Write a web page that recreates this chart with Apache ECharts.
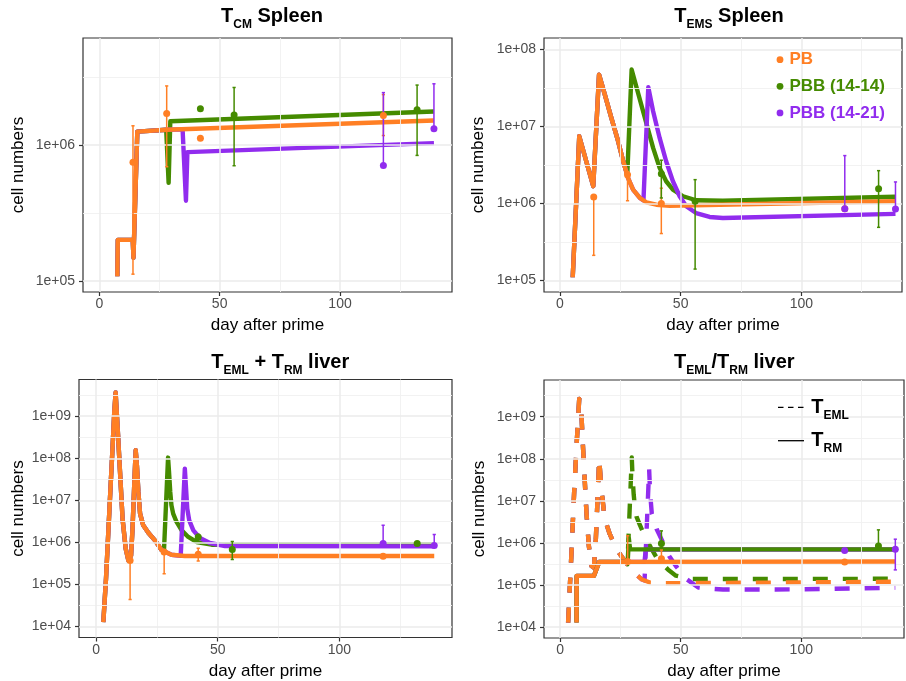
<!DOCTYPE html>
<html><head><meta charset="utf-8">
<script src="https://cdn.jsdelivr.net/npm/echarts@6/dist/echarts.min.js"></script>
<style>html,body{margin:0;padding:0;background:#fff;}#c{width:906px;height:681px;}</style>
</head><body><div id="c"></div>
<script>
// ---------------- DATA ----------------
const groups = ['PB', 'PBB (14-14)', 'PBB (14-21)'];
const dayTicks = [0, 50, 100];
const dayMinor = [25, 75, 125];
const cmTicks = [1e5, 1e6];
const cmMinor = [3.162e5, 3.162e6];
const emsTicks = [1e5, 1e6, 1e7, 1e8];
const emsMinor = [3.162e5, 3.162e6, 3.162e7];
const livTicks = [1e4, 1e5, 1e6, 1e7, 1e8, 1e9];
const livMinor = [3.162e4, 3.162e5, 3.162e6, 3.162e7, 3.162e8, 3.162e9];

// Panel 1: TCM spleen  (model lines: [day, cells])
const cmLinePB  = [[7.5,1.08e5],[7.7,2.0e5],[13.9,2.0e5],[14.2,1.48e5],[14.8,1.48e5],[15.8,1.25e6],[28,1.29e6],[139,1.51e6]];
const cmLineB14 = [[7.5,1.08e5],[7.7,2.0e5],[13.9,2.0e5],[14.2,1.48e5],[14.8,1.48e5],[15.8,1.25e6],[27.8,1.29e6],[28.8,5.25e5],[29.5,1.49e6],[139,1.76e6]];
const cmLineB21 = [[7.5,1.08e5],[7.7,2.0e5],[13.9,2.0e5],[14.2,1.48e5],[14.8,1.48e5],[15.8,1.25e6],[28,1.29e6],[34.6,1.30e6],[36.0,3.88e5],[36.6,8.83e5],[139,1.03e6]];
// observations: [day, mean, low, high]
const cmPtsPB  = [[14,7.43e5,1.12e5,1.38e6],[28,1.70e6,6.9e5,2.71e6],[42,1.12e6,1.12e6,1.12e6],[118,1.64e6,1.17e6,2.34e6]];
const cmPtsB14 = [[42,1.84e6,1.84e6,1.84e6],[56,1.66e6,7.02e5,2.64e6],[132,1.81e6,8.36e5,2.75e6]];
const cmPtsB21 = [[118,7.06e5,7.0e5,2.42e6],[139,1.31e6,1.30e6,2.81e6]];

// Panel 2: TEMS spleen
const emsLinePB  = [[5.3,1.10e5],[8.0,7.48e6],[13.8,1.675e6],[16.2,4.73e7],[18.6,2.60e7],[21.3,1.294e7],[24.1,6.44e6],[26.2,3.54e6],[28.2,2.15e6],[30.3,1.514e6],[33.1,1.18e6],[35.8,1.037e6],[39.9,9.64e5],[45.5,9.35e5],[139,1.069e6]];
const emsLineB14 = [[5.3,1.10e5],[8.0,7.48e6],[13.8,1.675e6],[16.2,4.73e7],[18.6,2.60e7],[21.3,1.294e7],[24.1,6.44e6],[26.2,3.54e6],[27.9,2.37e6],[29.7,5.50e7],[38.6,5.27e6],[41.3,2.90e6],[44.0,1.945e6],[46.8,1.514e6],[51.0,1.242e6],[56.4,1.102e6],[67.5,1.086e6],[139,1.225e6]];
const emsLineB21 = [[5.3,1.10e5],[8.0,7.48e6],[13.8,1.675e6],[16.2,4.73e7],[18.6,2.60e7],[21.3,1.294e7],[24.1,6.44e6],[26.2,3.54e6],[28.2,2.15e6],[30.3,1.514e6],[33.1,1.18e6],[34.6,1.10e6],[36.6,3.24e7],[38.6,1.58e7],[41.3,7.11e6],[44.0,3.54e6],[46.8,1.945e6],[49.6,1.242e6],[52.3,9.20e5],[56.4,7.52e5],[62.0,6.68e5],[67.5,6.47e5],[139,7.33e5]];
const emsPtsPB  = [[14,1.216e6,2.12e5,1.30e6],[28,2.37e6,1.086e6,2.6e6],[42,1.0e6,4.07e5,1.58e6],[118,8.55e5,8.1e5,9.0e5]];
const emsPtsB14 = [[42,2.44e6,1.18e6,3.65e6],[56,1.07e6,1.406e5,2.04e6],[132,1.56e6,4.9e5,2.67e6]];
const emsPtsB21 = [[118,8.55e5,8.3e5,4.19e6],[139,8.51e5,8.3e5,1.905e6]];

// Panel 3: TEML + TRM liver
const livLinePB  = [[3.0,1.27e4],[4.1,1.37e5],[5.46,5.30e6],[6.83,2.04e8],[7.5,1.27e9],[8.05,3.66e9],[8.9,5.09e8],[9.86,4.74e7],[10.9,3.66e6],[12.2,7.08e5],[13.3,3.72e5],[13.9,3.6e5],[14.4,4.9e5],[15.0,2.12e6],[15.7,2.28e7],[16.3,1.55e8],[16.8,6.81e7],[17.4,1.585e7],[18.1,4.82e6],[19.4,2.54e6],[21.5,1.70e6],[24.2,1.117e6],[26.9,6.61e5],[31.0,5.09e5],[36.5,4.75e5],[139,4.75e5]];
const livLineB14 = [[3.0,1.27e4],[4.1,1.37e5],[5.46,5.30e6],[6.83,2.04e8],[7.5,1.27e9],[8.05,3.66e9],[8.9,5.09e8],[9.86,4.74e7],[10.9,3.66e6],[12.2,7.08e5],[13.3,3.72e5],[13.9,3.6e5],[14.4,4.9e5],[15.0,2.12e6],[15.7,2.28e7],[16.3,1.55e8],[16.8,6.81e7],[17.4,1.585e7],[18.1,4.82e6],[19.4,2.54e6],[21.5,1.70e6],[24.2,1.117e6],[26.9,6.61e5],[27.9,5.90e5],[29.6,1.04e8],[30.0,4.74e7],[30.5,1.585e7],[31.0,7.60e6],[31.7,4.82e6],[33.1,3.06e6],[35.2,1.93e6],[37.9,1.346e6],[41.3,1.023e6],[47.5,8.81e5],[53.0,8.8e5],[139,8.95e5]];
const livLineB21 = [[3.0,1.27e4],[4.1,1.37e5],[5.46,5.30e6],[6.83,2.04e8],[7.5,1.27e9],[8.05,3.66e9],[8.9,5.09e8],[9.86,4.74e7],[10.9,3.66e6],[12.2,7.08e5],[13.3,3.72e5],[13.9,3.6e5],[14.4,4.9e5],[15.0,2.12e6],[15.7,2.28e7],[16.3,1.55e8],[16.8,6.81e7],[17.4,1.585e7],[18.1,4.82e6],[19.4,2.54e6],[21.5,1.70e6],[24.2,1.117e6],[26.9,6.61e5],[31.0,5.09e5],[34.8,4.77e5],[36.5,5.69e7],[37.0,1.90e7],[37.5,6.34e6],[38.3,3.34e6],[40.0,1.93e6],[42.7,1.274e6],[46.8,9.68e5],[53.0,8.20e5],[139,8.04e5]];
const livPtsPB  = [[14,3.72e5,4.40e4,3.9e5],[28,5.90e5,1.80e5,6.2e5],[42,5.20e5,3.6e5,7.3e5],[118,4.65e5,4.4e5,4.95e5]];
const livPtsB14 = [[42,1.35e6,1.2e6,1.55e6],[56,6.81e5,3.9e5,1.05e6],[132,9.46e5,9.2e5,9.7e5]];
const livPtsB21 = [[118,9.46e5,9.3e5,2.54e6],[139,8.49e5,8.3e5,1.55e6]];

// Panel 4: TEML (dashed) / TRM (solid) liver
const rmLinePB  = [[6.8,1.27e4],[6.85,1.64e5],[14.0,1.64e5],[16.2,3.53e5],[139,3.61e5]];
const rmLineB14 = [[6.8,1.27e4],[6.85,1.64e5],[14.0,1.64e5],[16.2,3.53e5],[28.0,3.55e5],[28.5,1.27e6],[29.0,7.0e5],[139,7.0e5]];
const rmLineB21 = [[6.8,1.27e4],[6.85,1.64e5],[14.0,1.64e5],[16.2,3.53e5],[35.0,3.56e5],[35.5,6.95e5],[139,6.95e5]];
const emlLinePB  = [[3.3,1.27e4],[4.7,5.90e5],[5.8,1.585e7],[6.8,2.04e8],[7.9,2.64e9],[8.6,2.20e9],[9.3,2.94e8],[10.1,3.94e7],[10.9,5.30e6],[11.9,8.49e5],[13.0,2.83e5],[14.0,2.59e5],[14.8,1.225e6],[15.5,1.096e7],[16.2,9.84e7],[17.1,1.90e7],[18.5,3.66e6],[20.6,1.61e6],[23.4,7.08e5],[26.8,3.72e5],[30.3,2.04e5],[33.7,1.37e5],[37.2,1.14e5],[42.7,1.10e5],[60,1.11e5],[139,1.19e5]];
const emlLineB14 = [[3.3,1.27e4],[4.7,5.90e5],[5.8,1.585e7],[6.8,2.04e8],[7.9,2.64e9],[8.6,2.20e9],[9.3,2.94e8],[10.1,3.94e7],[10.9,5.30e6],[11.9,8.49e5],[13.0,2.83e5],[14.0,2.59e5],[14.8,1.225e6],[15.5,1.096e7],[16.2,9.84e7],[17.1,1.90e7],[18.5,3.66e6],[20.6,1.61e6],[23.4,7.08e5],[26.8,3.72e5],[27.9,3.1e5],[29.7,1.07e8],[30.0,3.98e7],[30.5,1.41e7],[31.0,7.08e6],[31.7,4.17e6],[33.1,2.63e6],[35.2,1.41e6],[37.5,7.94e5],[40.0,4.47e5],[44.8,2.29e5],[48.0,1.66e5],[53.8,1.38e5],[139,1.40e5]];
const emlLineB21 = [[3.3,1.27e4],[4.7,5.90e5],[5.8,1.585e7],[6.8,2.04e8],[7.9,2.64e9],[8.6,2.20e9],[9.3,2.94e8],[10.1,3.94e7],[10.9,5.30e6],[11.9,8.49e5],[13.0,2.83e5],[14.0,2.59e5],[14.8,1.225e6],[15.5,1.096e7],[16.2,9.84e7],[17.1,1.90e7],[18.5,3.66e6],[20.6,1.61e6],[23.4,7.08e5],[26.8,3.72e5],[30.3,2.04e5],[33.7,1.37e5],[35.0,1.28e5],[36.9,5.69e7],[37.3,1.585e7],[38.0,5.01e6],[40.0,2.14e6],[42.0,1.23e6],[45.2,4.9e5],[48.0,2.82e5],[52.4,1.38e5],[57.3,8.71e4],[63.5,8.04e4],[67.6,7.76e4],[100,7.85e4],[139,8.61e4]];
const trmPtsPB  = [[28,3.6e5,3.5e5,1.48e6],[42,4.17e5,3.7e5,6.76e5],[118,3.53e5,3.2e5,3.9e5]];
const trmPtsB14 = [[42,9.68e5,7.9e5,1.93e6],[132,8.49e5,8.2e5,2.04e6]];
const trmPtsB21 = [[118,6.59e5,6.3e5,6.9e5],[139,7.08e5,2.28e5,1.225e6]];

// ---------------- STYLE / LAYOUT ----------------
const FONT = '"Liberation Sans", Arial, Helvetica, sans-serif';
const COL = {'PB':'#FF7F24', 'PBB (14-14)':'#458B00', 'PBB (14-21)':'#912CEE'};

const panels = [
  {grid:{left:83, top:38, width:369, height:254}, x:[-6.76,146.5], y:[8.28e4,6.10e6], yTicks:cmTicks, yMinor:cmMinor, nameGapY:56.5,
   lines:[[cmLineB14,'PBB (14-14)',false,2],[cmLineB21,'PBB (14-21)',false,3],[cmLinePB,'PB',false,4]],
   pts:[[cmPtsPB,'PB'],[cmPtsB14,'PBB (14-14)'],[cmPtsB21,'PBB (14-21)']]},
  {grid:{left:544, top:38, width:358, height:254}, x:[-6.6,141.7], y:[7.08e4,1.413e8], yTicks:emsTicks, yMinor:emsMinor, nameGapY:57,
   lines:[[emsLineB14,'PBB (14-14)',false,2],[emsLineB21,'PBB (14-21)',false,3],[emsLinePB,'PB',false,4]],
   pts:[[emsPtsPB,'PB'],[emsPtsB14,'PBB (14-14)'],[emsPtsB21,'PBB (14-21)']]},
  {grid:{left:79, top:379.5, width:373, height:258}, x:[-7.0,146.3], y:[5.47e3,7.48e9], yTicks:livTicks, yMinor:livMinor, nameGapY:52.6,
   lines:[[livLineB14,'PBB (14-14)',false,2],[livLineB21,'PBB (14-21)',false,3],[livLinePB,'PB',false,4]],
   pts:[[livPtsPB,'PB'],[livPtsB14,'PBB (14-14)'],[livPtsB21,'PBB (14-21)']]},
  {grid:{left:544, top:380, width:360, height:258}, x:[-6.7,142.6], y:[5.47e3,7.48e9], yTicks:livTicks, yMinor:livMinor, nameGapY:56,
   lines:[[emlLineB14,'PBB (14-14)',true,1],[emlLineB21,'PBB (14-21)',true,1.5],[emlLinePB,'PB',true,1.8],
          [rmLineB21,'PBB (14-21)',false,2],[rmLineB14,'PBB (14-14)',false,3],[rmLinePB,'PB',false,4]],
   pts:[[trmPtsPB,'PB'],[trmPtsB14,'PBB (14-14)'],[trmPtsB21,'PBB (14-21)']]}
];

function expLabel(v) {
  const e = Math.round(Math.log10(v));
  return '1e+' + (e < 10 ? '0' : '') + e;
}

const grids = [], xAxes = [], yAxes = [], series = [];
panels.forEach((p, i) => {
  grids.push(Object.assign({show:true, borderColor:'#333333', borderWidth:1.2, backgroundColor:'#ffffff', containLabel:false, outerBoundsMode:'none'}, p.grid));
  xAxes.push({type:'value', gridIndex:i, min:p.x[0], max:p.x[1],
    axisLine:{show:false, onZero:false},
    axisTick:{show:true, length:4, customValues:dayTicks, lineStyle:{color:'#333333', width:1.2}},
    axisLabel:{customValues:dayTicks, color:'#4D4D4D', fontSize:14, fontFamily:FONT, margin:5.5},
    splitLine:{show:false},
    name:'day after prime', nameLocation:'middle', nameGap:25,
    nameTextStyle:{fontSize:17, color:'#000', fontFamily:FONT}});
  yAxes.push({type:'log', logBase:10, gridIndex:i, min:p.y[0], max:p.y[1],
    axisLine:{show:false, onZero:false},
    axisTick:{show:true, length:4, customValues:p.yTicks, lineStyle:{color:'#333333', width:1.2}},
    axisLabel:{customValues:p.yTicks, formatter:expLabel, color:'#4D4D4D', fontSize:14, fontFamily:FONT, margin:8},
    splitLine:{show:false},
    name:'cell numbers', nameLocation:'middle', nameGap:p.nameGapY,
    nameTextStyle:{fontSize:17, color:'#000', fontFamily:FONT}});
  // grid lines via markLine
  const ml = [];
  dayMinor.forEach(v => ml.push({xAxis:v, lineStyle:{color:'#F0F0F0', width:0.9, type:'solid'}}));
  p.yMinor.forEach(v => ml.push({yAxis:v, lineStyle:{color:'#F0F0F0', width:0.9, type:'solid'}}));
  dayTicks.forEach(v => ml.push({xAxis:v, lineStyle:{color:'#EBEBEB', width:1.5, type:'solid'}}));
  p.yTicks.forEach(v => ml.push({yAxis:v, lineStyle:{color:'#EBEBEB', width:1.5, type:'solid'}}));
  series.push({type:'line', name:'grid' + i, xAxisIndex:i, yAxisIndex:i, data:[], z:0, silent:true,
    markLine:{silent:true, symbol:['none','none'], label:{show:false}, animation:false, data:ml}});
  p.lines.forEach(([data, g, dashed, z]) => {
    series.push({type:'line', name:g, xAxisIndex:i, yAxisIndex:i, data:data, z:z, silent:true,
      showSymbol:false, symbol:'none', clip:true, emphasis:{disabled:true},
      itemStyle:{color:COL[g]},
      lineStyle:{color:COL[g], width:4.4, type: dashed ? [15,15] : 'solid', cap:'butt', join:'round'}});
  });
  p.pts.forEach(([pts, g]) => {
    const color = COL[g];
    series.push({type:'custom', name:g, xAxisIndex:i, yAxisIndex:i, z:5, silent:true, clip:true,
      data: pts.map(d => [d[0], d[2], d[3]]),
      encode:{x:0, y:[1,2]},
      renderItem: function(params, api) {
        const lo = api.coord([api.value(0), api.value(1)]);
        const hi = api.coord([api.value(0), api.value(2)]);
        const w = 1.6, st = {stroke:color, lineWidth:1.5};
        return {type:'group', children:[
          {type:'line', shape:{x1:lo[0], y1:lo[1], x2:hi[0], y2:hi[1]}, style:st},
          {type:'line', shape:{x1:lo[0]-w, y1:lo[1], x2:lo[0]+w, y2:lo[1]}, style:st},
          {type:'line', shape:{x1:hi[0]-w, y1:hi[1], x2:hi[0]+w, y2:hi[1]}, style:st}
        ]};
      }});
    series.push({type:'scatter', name:g, xAxisIndex:i, yAxisIndex:i, z:6, silent:true,
      data: pts.map(d => [d[0], d[1]]), symbol:'circle', symbolSize:7,
      itemStyle:{color:color, opacity:1}, emphasis:{disabled:true}});
  });
});

const tRich = {
  t:{fontSize:20, fontWeight:'bold', fontFamily:FONT, lineHeight:20, verticalAlign:'top', fill:'#000'},
  s:{fontSize:12, fontWeight:'bold', fontFamily:FONT, lineHeight:12, padding:[12.5,0,0,0], verticalAlign:'top', fill:'#000'}
};
function titleEl(x, y, text, align) {
  return {type:'text', x:x, y:y, silent:true, z:100,
    style:{text:text, rich:tRich, align:align || 'center', verticalAlign:'top', fontSize:20, fontWeight:'bold', fontFamily:FONT, fill:'#000'}};
}
// legend of panel 2 (group colours)
const legendEls = [];
groups.forEach((g, k) => {
  const cy = 59.7 + k * 26.6;
  legendEls.push({type:'circle', silent:true, z:100, shape:{cx:780, cy:cy, r:3.4}, style:{fill:COL[g]}});
  legendEls.push({type:'text', silent:true, z:100, x:789.5, y:cy,
    style:{text:g, fill:COL[g], fontSize:17, fontWeight:'bold', fontFamily:FONT, align:'left', verticalAlign:'middle'}});
});

const option = {
  animation:false,
  backgroundColor:'#ffffff',
  grid:grids, xAxis:xAxes, yAxis:yAxes, series:series,
  graphic:[
    titleEl(272, 6.5, '{t|T}{s|CM}{t| Spleen}'),
    titleEl(729, 6.5, '{t|T}{s|EMS}{t| Spleen}'),
    titleEl(280.3, 352.4, '{t|T}{s|EML}{t| + T}{s|RM}{t| liver}'),
    titleEl(734.3, 352.4, '{t|T}{s|EML}{t|/T}{s|RM}{t| liver}'),
    {type:'line', silent:true, z:100, shape:{x1:778, y1:407.3, x2:804, y2:407.3}, style:{stroke:'#000', lineWidth:1.3, lineDash:[5.5,4.5]}},
    {type:'line', silent:true, z:100, shape:{x1:778, y1:440.7, x2:804, y2:440.7}, style:{stroke:'#000', lineWidth:1.3}},
    titleEl(811.3, 397.1, '{t|T}{s|EML}', 'left'),
    titleEl(811.3, 430.4, '{t|T}{s|RM}', 'left')
  ].concat(legendEls)
};

const chart = echarts.init(document.getElementById('c'), null, {renderer:'canvas'});
chart.setOption(option);
</script></body></html>
